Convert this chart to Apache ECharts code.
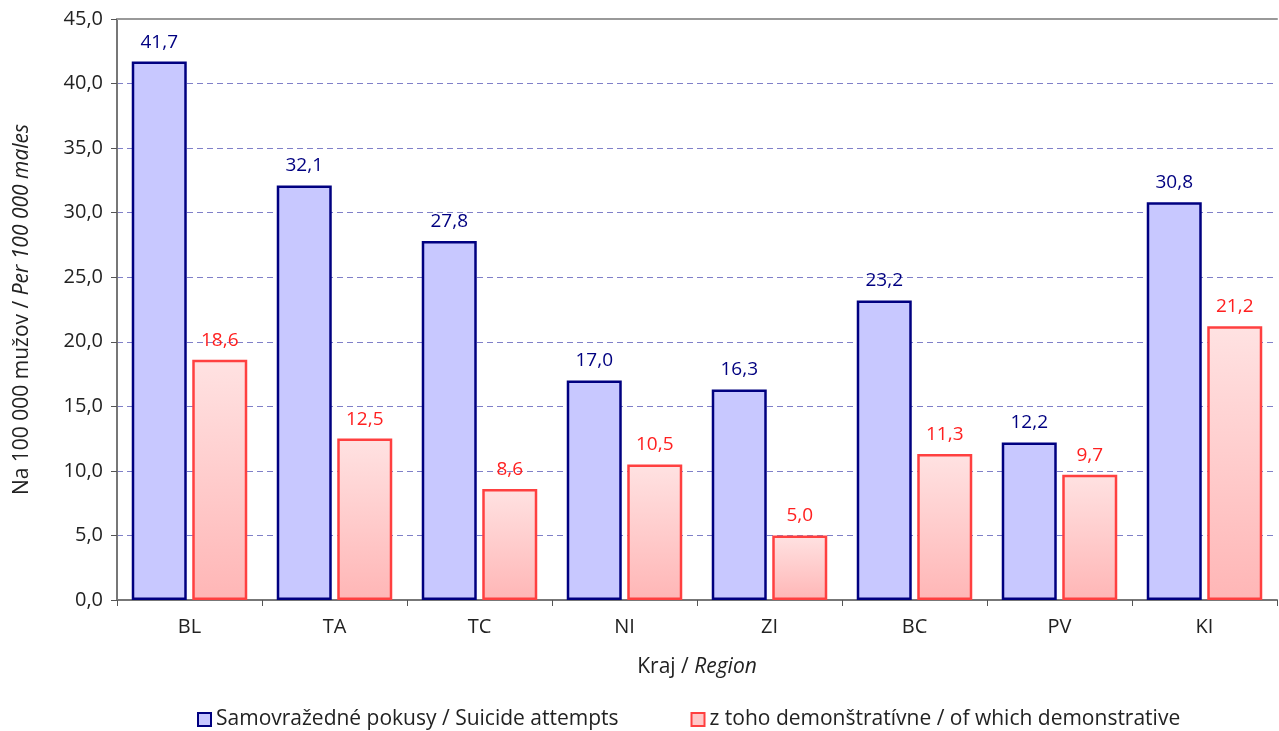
<!DOCTYPE html>
<html><head><meta charset="utf-8">
<script src="https://cdn.jsdelivr.net/npm/echarts@6/dist/echarts.min.js"></script>
<style>html,body{margin:0;padding:0;background:#fff}#c{width:1279px;height:731px}</style>
</head><body><div id="c"></div>
<script>
var categories = ['BL','TA','TC','NI','ZI','BC','PV','KI'];
var attempts = [41.7,32.1,27.8,17.0,16.3,23.2,12.2,30.8];
var demonstrative = [18.6,12.5,8.6,10.5,5.0,11.3,9.7,21.2];
var seriesNames = ['Samovražedné pokusy / Suicide attempts','z toho demonštratívne / of which demonstrative'];
var yTicks = {min:0, max:45, interval:5};

var FONT = '"Open Sans", "Noto Sans", sans-serif';
function fmt(v){ return Number(v).toFixed(1).replace('.', ','); }

var chart = echarts.init(document.getElementById('c'));
chart.setOption({
  animation:false,
  textStyle:{fontFamily:FONT},
  grid:{left:117, right:2, top:19, bottom:131, containLabel:false, outerBoundsMode:'none'},
  legend:{
    top:704, left:192, itemWidth:13, itemHeight:13, itemGap:72,
    textStyle:{fontSize:21, color:'#222', fontFamily:FONT},
    data:[
      {name:seriesNames[0], icon:'rect', itemStyle:{color:'#c8c8ff', borderColor:'#000080', borderWidth:2}},
      {name:seriesNames[1], icon:'rect', itemStyle:{color:'#ffc8c8', borderColor:'#ff4040', borderWidth:2}}
    ]
  },
  xAxis:[{
    type:'category', data:categories, boundaryGap:true,
    axisLine:{lineStyle:{color:'#777', width:2}},
    axisTick:{show:true, length:6, inside:false, lineStyle:{color:'#555'}},
    axisLabel:{fontSize:20, color:'#222', margin:17, fontFamily:FONT},
    name:'{a|Kraj / }{b|Region}', nameLocation:'middle', nameGap:57,
    nameTextStyle:{rich:{a:{fontSize:21,color:'#222',fontFamily:FONT}, b:{fontSize:21,color:'#222',fontStyle:'italic',fontFamily:FONT}}}
  },{
    type:'category', data:categories, position:'top',
    axisLine:{show:true, lineStyle:{color:'#999', width:2}},
    axisTick:{show:false}, axisLabel:{show:false}
  }],
  yAxis:{
    type:'value', min:yTicks.min, max:yTicks.max, interval:yTicks.interval,
    axisLine:{show:true, lineStyle:{color:'#777', width:2}},
    axisTick:{show:true, length:6, lineStyle:{color:'#555'}},
    axisLabel:{fontSize:20, color:'#222', margin:14, formatter:fmt, fontFamily:FONT},
    splitLine:{show:true, lineStyle:{color:'#8080c8', type:[6,4], width:1}},
    name:'{a|Na 100 000 mužov / }{b|Per 100 000 males}', nameLocation:'middle', nameGap:84, nameRotate:90,
    nameTextStyle:{rich:{a:{fontSize:21,color:'#222',fontFamily:FONT}, b:{fontSize:21,color:'#222',fontStyle:'italic',fontFamily:FONT}}}
  },
  series:[{
    name:seriesNames[0], type:'bar', data:attempts, barWidth:55, barGap:'10%',
    itemStyle:{color:'#c8c8ff', borderColor:'#000080', borderWidth:2.5},
    label:{show:true, position:'top', distance:10, color:'#000080', fontSize:19, formatter:function(p){return fmt(p.value);}, fontFamily:FONT}
  },{
    name:seriesNames[1], type:'bar', data:demonstrative, barWidth:55,
    itemStyle:{
      color:{type:'linear', x:0, y:0, x2:0, y2:1, colorStops:[{offset:0,color:'#ffe2e2'},{offset:1,color:'#ffb6b6'}]},
      borderColor:'#ff4040', borderWidth:2.5
    },
    label:{show:true, position:'top', distance:10, color:'#ff2020', fontSize:19, formatter:function(p){return fmt(p.value);}, fontFamily:FONT}
  }]
});
</script></body></html>
